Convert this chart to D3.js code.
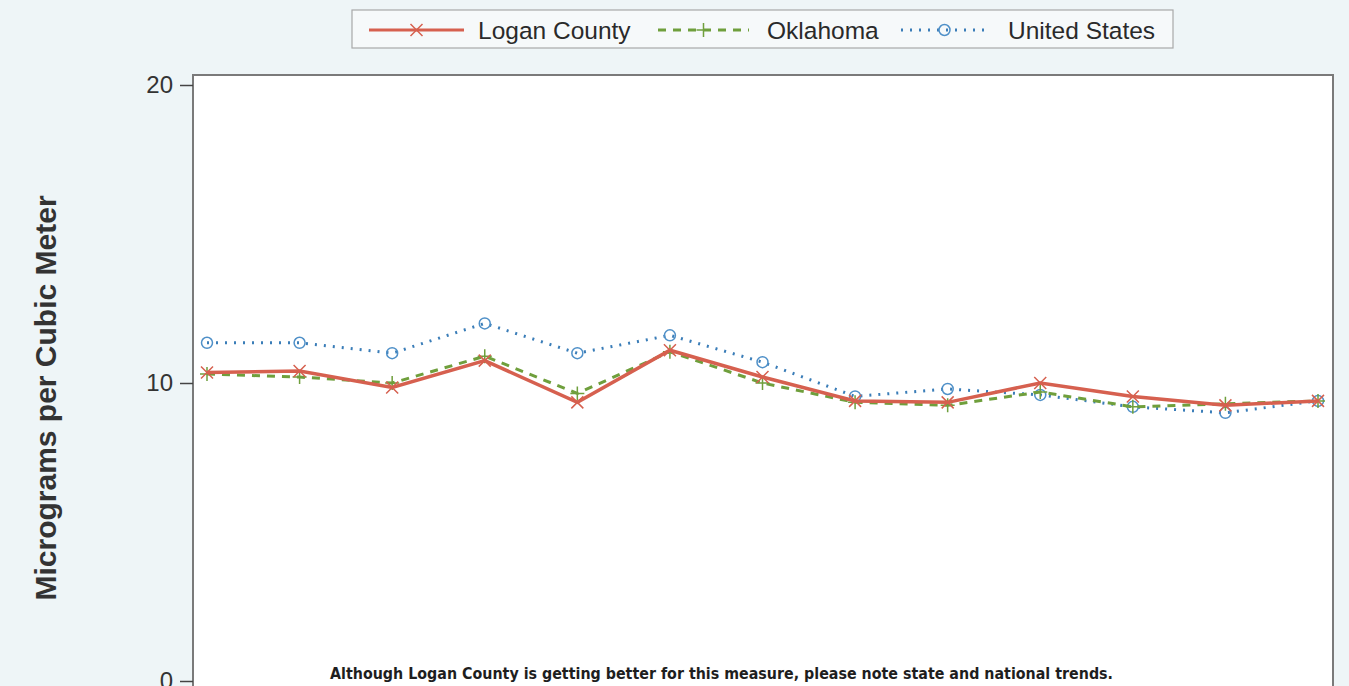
<!DOCTYPE html>
<html>
<head>
<meta charset="utf-8">
<script src="https://cdn.jsdelivr.net/npm/d3@7"></script>
<style>
  body { margin: 0; background: #eef5f7; }
  svg { display: block; }
</style>
</head>
<body>
<div id="chart"></div>
<script>
const years = ['2000', '2001', '2002', '2003', '2004', '2005', '2006', '2007', '2008', '2009', '2010', '2011', '2012'];
const logan = [10.35, 10.4, 9.85, 10.75, 9.35, 11.1, 10.2, 9.4, 9.35, 10.0, 9.55, 9.25, 9.4];
const oklahoma = [10.3, 10.2, 10.0, 10.9, 9.65, 11.05, 10.0, 9.35, 9.25, 9.7, 9.2, 9.3, 9.4];
const usa = [11.35, 11.35, 11.0, 12.0, 11.0, 11.6, 10.7, 9.55, 9.8, 9.6, 9.2, 9.0, 9.4];
const yTicks = [0, 10, 20];

const series = [
    { name: 'Logan County', values: logan, color: '#d6604f', dash: null, marker: 'x' },
    { name: 'Oklahoma', values: oklahoma, color: '#6f9f3c', dash: '8,7', marker: 'plus' },
    { name: 'United States', values: usa, color: '#3a7db8', dash: '2,7', marker: 'circle' }
];

const width = 1349;
const height = 686;
const plot = { left: 193, top: 75, right: 1333, bottom: 730 };

const svg = d3.select('#chart')
    .append('svg')
    .attr('width', width)
    .attr('height', height);

svg.append('rect')
    .attr('width', width)
    .attr('height', height)
    .attr('fill', '#eef5f7');

// plot area
svg.append('rect')
    .attr('x', plot.left)
    .attr('y', plot.top)
    .attr('width', plot.right - plot.left)
    .attr('height', plot.bottom - plot.top)
    .attr('fill', '#ffffff')
    .attr('stroke', '#7a7a7a')
    .attr('stroke-width', 2);

const x = d3.scalePoint()
    .domain(years)
    .range([207, 1318]);

const y = d3.scaleLinear()
    .domain([0, 20])
    .range([681, 85]);

const yAxis = svg.append('g')
    .attr('transform', `translate(${plot.left},0)`)
    .call(d3.axisLeft(y).tickValues(yTicks).tickSize(13).tickPadding(7));
yAxis.select('.domain').remove();
yAxis.selectAll('line').attr('stroke', '#444').attr('stroke-width', 1.5);
yAxis.selectAll('text')
    .attr('font-family', 'Liberation Sans, Arial, sans-serif')
    .attr('font-size', 24)
    .attr('fill', '#333');

svg.append('text')
    .attr('transform', 'translate(56,398) rotate(-90)')
    .attr('text-anchor', 'middle')
    .attr('font-family', 'Liberation Sans, Arial, sans-serif')
    .attr('font-weight', 'bold')
    .attr('font-size', 30)
    .attr('fill', '#333')
    .text('Micrograms per Cubic Meter');

function drawMarker(g, type, color, cx, cy) {
    if (type === 'x') {
        g.append('path')
            .attr('d', `M${cx - 6},${cy - 6}L${cx + 6},${cy + 6}M${cx - 6},${cy + 6}L${cx + 6},${cy - 6}`)
            .attr('stroke', color).attr('stroke-width', 1.5).attr('fill', 'none');
    } else if (type === 'plus') {
        g.append('path')
            .attr('d', `M${cx - 7},${cy}L${cx + 7},${cy}M${cx},${cy - 7}L${cx},${cy + 7}`)
            .attr('stroke', color).attr('stroke-width', 1.5).attr('fill', 'none');
    } else {
        g.append('circle')
            .attr('cx', cx).attr('cy', cy).attr('r', 5.5)
            .attr('stroke', '#4f90c8').attr('stroke-width', 1.5).attr('fill', 'none');
    }
}

const line = d3.line()
    .x((d, i) => x(years[i]))
    .y(d => y(d));

// draw US first so Logan ends up on top
[...series].reverse().forEach(s => {
    const g = svg.append('g');
    g.append('path')
        .datum(s.values)
        .attr('d', line)
        .attr('fill', 'none')
        .attr('stroke', s.color)
        .attr('stroke-width', s.marker === 'x' ? 3.5 : 3)
        .attr('stroke-dasharray', s.dash);
    s.values.forEach((v, i) => drawMarker(g, s.marker, s.color, x(years[i]), y(v)));
});

// legend
const legend = svg.append('g');
legend.append('rect')
    .attr('x', 352).attr('y', 10)
    .attr('width', 821).attr('height', 38)
    .attr('fill', '#f6f9fa')
    .attr('stroke', '#a8a8a8')
    .attr('stroke-width', 1.2);

const legendPos = [
    { x1: 369, x2: 464, tx: 478 },
    { x1: 658, x2: 749, tx: 767 },
    { x1: 901, x2: 988, tx: 1008 }
];

series.forEach((s, i) => {
    const p = legendPos[i];
    const ly = 30;
    legend.append('line')
        .attr('x1', p.x1).attr('x2', p.x2)
        .attr('y1', ly).attr('y2', ly)
        .attr('stroke', s.color)
        .attr('stroke-width', 3)
        .attr('stroke-dasharray', s.dash);
    drawMarker(legend, s.marker, s.color, (p.x1 + p.x2) / 2, ly);
    legend.append('text')
        .attr('x', p.tx).attr('y', ly + 9)
        .attr('font-family', 'Liberation Sans, Arial, sans-serif')
        .attr('font-size', 24.5)
        .attr('fill', '#2a2a2a')
        .text(s.name);
});

svg.append('text')
    .attr('x', 330).attr('y', 679)
    .attr('font-family', 'DejaVu Sans, Verdana, sans-serif')
    .attr('font-weight', 'bold')
    .attr('font-size', 15)
    .attr('textLength', 783)
    .attr('lengthAdjust', 'spacingAndGlyphs')
    .attr('fill', '#1e1e1e')
    .text('Although Logan County is getting better for this measure, please note state and national trends.');
</script>
</body>
</html>
